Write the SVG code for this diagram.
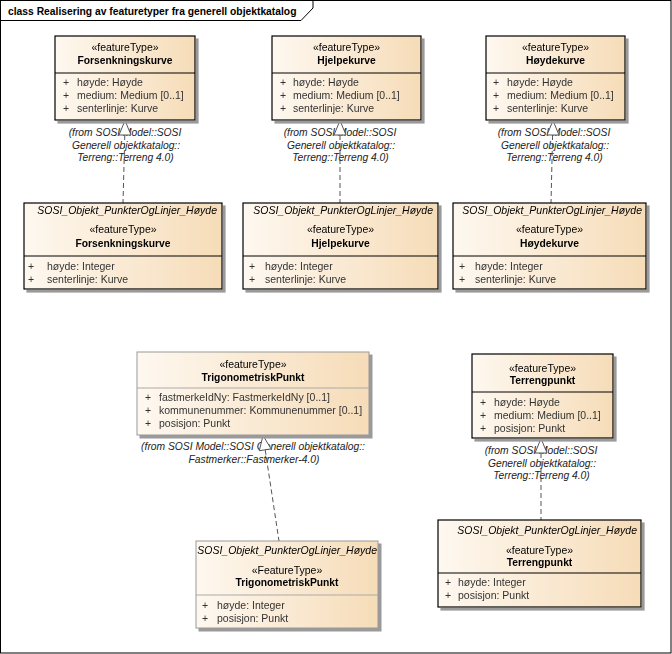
<svg xmlns="http://www.w3.org/2000/svg" width="672" height="654" viewBox="0 0 672 654">
<defs>
<linearGradient id="g" x1="0" y1="0" x2="1" y2="0">
<stop offset="0" stop-color="#FEF8F0"/>
<stop offset="1" stop-color="#F6DCB8"/>
</linearGradient>
<filter id="sh" x="-5%" y="-5%" width="115%" height="115%">
<feFlood flood-color="#9a9a9a"/>
<feComposite in2="SourceAlpha" operator="in"/>
<feOffset dx="3" dy="3" result="s"/>
<feMerge><feMergeNode in="s"/><feMergeNode in="SourceGraphic"/></feMerge>
</filter>
</defs>
<style>
text{font-family:"Liberation Sans",Arial,sans-serif;font-size:10.5px;fill:#000}
.t{font-weight:bold;font-size:10.3px}
.c{text-anchor:middle}
.e{text-anchor:end}
.i{font-style:italic}
.a{fill:#333}
.lb{font-style:italic;fill:#222;text-anchor:middle;font-size:10.3px}
.box{fill:url(#g);stroke:#000;stroke-width:1.2}
.boxg{fill:url(#g);stroke:#999;stroke-width:1}
.dv{stroke:#000;stroke-width:1}
.dvg{stroke:#aaa;stroke-width:1}
.dash{stroke:#555;stroke-width:1;stroke-dasharray:5,3;fill:none}
.tri{fill:#fff;stroke:#555;stroke-width:1}
</style>
<g id="frame">
<rect x="0.5" y="0.5" width="670.5" height="652.5" fill="#fff" stroke="#000" stroke-width="1"/>
<path d="M0.5 0.5 H313 V8 L301 20.5 H0.5" fill="none" stroke="#000" stroke-width="1"/>
<text class="t" x="8" y="14.5">class Realisering av featuretyper fra generell objektkatalog</text>
</g>

<g id="labels">
<text class="lb" x="125" y="135.5">(from SOSI Model::SOSI</text>
<text class="lb" x="126" y="148.5">Generell objektkatalog::</text>
<text class="lb" x="125.5" y="161">Terreng::Terreng 4.0)</text>
<text class="lb" x="340" y="135.5">(from SOSI Model::SOSI</text>
<text class="lb" x="341" y="148.5">Generell objektkatalog::</text>
<text class="lb" x="340.5" y="161">Terreng::Terreng 4.0)</text>
<text class="lb" x="554" y="135.5">(from SOSI Model::SOSI</text>
<text class="lb" x="555" y="148.5">Generell objektkatalog::</text>
<text class="lb" x="554.5" y="161">Terreng::Terreng 4.0)</text>
<text class="lb" x="253" y="450">(from SOSI Model::SOSI Generell objektkatalog::</text>
<text class="lb" x="254" y="462.5">Fastmerker::Fastmerker-4.0)</text>
<text class="lb" x="541" y="454">(from SOSI Model::SOSI</text>
<text class="lb" x="542" y="466.5">Generell objektkatalog::</text>
<text class="lb" x="541.5" y="479">Terreng::Terreng 4.0)</text>
</g>

<g id="connectors">
<line class="dash" x1="124.8" y1="135" x2="123" y2="203"/>
<path class="tri" d="M125 120.5 L131 135 L119 135 Z"/>
<line class="dash" x1="340" y1="135" x2="340" y2="203"/>
<path class="tri" d="M340 120.5 L346 135 L334 135 Z"/>
<line class="dash" x1="552.6" y1="135" x2="551" y2="203"/>
<path class="tri" d="M553 120.5 L559 135 L547 135 Z"/>
<line class="dash" x1="265.2" y1="449.8" x2="279" y2="541"/>
<path class="tri" d="M263 435.5 L271.1 448.9 L259.3 450.7 Z"/>
<line class="dash" x1="541" y1="453" x2="541" y2="520"/>
<path class="tri" d="M541 438.5 L547 453 L535 453 Z"/>
</g>

<g id="forsenkningskurve-top" filter="url(#sh)">
<rect class="box" x="55" y="36" width="140" height="84"/>
<line class="dv" x1="55" y1="73" x2="195" y2="73"/>
<text class="c" x="125" y="50.5">«featureType»</text>
<text class="t c" x="125" y="63.5">Forsenkningskurve</text>
<text class="a" x="63" y="86">+</text><text class="a" x="77" y="86">høyde: Høyde</text>
<text class="a" x="63" y="99">+</text><text class="a" x="77" y="99">medium: Medium [0..1]</text>
<text class="a" x="63" y="112">+</text><text class="a" x="77" y="112">senterlinje: Kurve</text>
</g>

<g id="hjelpekurve-top" filter="url(#sh)">
<rect class="box" x="272" y="36" width="149" height="84"/>
<line class="dv" x1="272" y1="73" x2="421" y2="73"/>
<text class="c" x="346.5" y="50.5">«featureType»</text>
<text class="t c" x="346.5" y="63.5">Hjelpekurve</text>
<text class="a" x="280" y="86">+</text><text class="a" x="293" y="86">høyde: Høyde</text>
<text class="a" x="280" y="99">+</text><text class="a" x="293" y="99">medium: Medium [0..1]</text>
<text class="a" x="280" y="112">+</text><text class="a" x="293" y="112">senterlinje: Kurve</text>
</g>

<g id="hoydekurve-top" filter="url(#sh)">
<rect class="box" x="486" y="36" width="139" height="84"/>
<line class="dv" x1="486" y1="73" x2="625" y2="73"/>
<text class="c" x="555.5" y="50.5">«featureType»</text>
<text class="t c" x="555.5" y="63.5">Høydekurve</text>
<text class="a" x="493" y="86">+</text><text class="a" x="507" y="86">høyde: Høyde</text>
<text class="a" x="493" y="99">+</text><text class="a" x="507" y="99">medium: Medium [0..1]</text>
<text class="a" x="493" y="112">+</text><text class="a" x="507" y="112">senterlinje: Kurve</text>
</g>

<g id="forsenkningskurve-bottom" filter="url(#sh)">
<rect class="box" x="24" y="203" width="198" height="86"/>
<line class="dv" x1="24" y1="256" x2="222" y2="256"/>
<text class="i e" x="217" y="214">SOSI_Objekt_PunkterOgLinjer_Høyde</text>
<text class="c" x="123" y="232.5">«featureType»</text>
<text class="t c" x="123" y="246.5">Forsenkningskurve</text>
<text class="a" x="28" y="270">+</text><text class="a" x="47" y="270">høyde: Integer</text>
<text class="a" x="28" y="283">+</text><text class="a" x="47" y="283">senterlinje: Kurve</text>
</g>

<g id="hjelpekurve-bottom" filter="url(#sh)">
<rect class="box" x="243" y="203" width="195" height="86"/>
<line class="dv" x1="243" y1="256" x2="438" y2="256"/>
<text class="i e" x="433" y="214">SOSI_Objekt_PunkterOgLinjer_Høyde</text>
<text class="c" x="340.5" y="232.5">«featureType»</text>
<text class="t c" x="340.5" y="246.5">Hjelpekurve</text>
<text class="a" x="249" y="270">+</text><text class="a" x="265" y="270">høyde: Integer</text>
<text class="a" x="249" y="283">+</text><text class="a" x="265" y="283">senterlinje: Kurve</text>
</g>

<g id="hoydekurve-bottom" filter="url(#sh)">
<rect class="box" x="453" y="203" width="193" height="86"/>
<line class="dv" x1="453" y1="256" x2="646" y2="256"/>
<text class="i e" x="642" y="214">SOSI_Objekt_PunkterOgLinjer_Høyde</text>
<text class="c" x="549.5" y="232.5">«featureType»</text>
<text class="t c" x="549.5" y="246.5">Høydekurve</text>
<text class="a" x="459" y="270">+</text><text class="a" x="475" y="270">høyde: Integer</text>
<text class="a" x="459" y="283">+</text><text class="a" x="475" y="283">senterlinje: Kurve</text>
</g>

<g id="trigonometriskpunkt-top" filter="url(#sh)">
<rect class="boxg" x="137" y="352" width="232" height="83"/>
<line class="dvg" x1="137" y1="388" x2="369" y2="388"/>
<text class="c" x="253" y="368">«featureType»</text>
<text class="t c" x="253" y="380.5">TrigonometriskPunkt</text>
<text class="a" x="145" y="401">+</text><text class="a" x="159" y="401">fastmerkeIdNy: FastmerkeIdNy [0..1]</text>
<text class="a" x="145" y="414">+</text><text class="a" x="159" y="414">kommunenummer: Kommunenummer [0..1]</text>
<text class="a" x="145" y="427">+</text><text class="a" x="159" y="427">posisjon: Punkt</text>
</g>

<g id="trigonometriskpunkt-bottom" filter="url(#sh)">
<rect class="boxg" x="196" y="541" width="182" height="87"/>
<line class="dvg" x1="196" y1="595" x2="378" y2="595"/>
<text class="i e" x="377" y="554">SOSI_Objekt_PunkterOgLinjer_Høyde</text>
<text class="c" x="287" y="573.5">«FeatureType»</text>
<text class="t c" x="287" y="585.5">TrigonometriskPunkt</text>
<text class="a" x="202" y="609">+</text><text class="a" x="217" y="609">høyde: Integer</text>
<text class="a" x="202" y="622">+</text><text class="a" x="217" y="622">posisjon: Punkt</text>
</g>

<g id="terrengpunkt-top" filter="url(#sh)">
<rect class="box" x="472" y="354" width="141" height="84"/>
<line class="dv" x1="472" y1="392" x2="613" y2="392"/>
<text class="c" x="542.5" y="371.5">«featureType»</text>
<text class="t c" x="542.5" y="383.5">Terrengpunkt</text>
<text class="a" x="480" y="406">+</text><text class="a" x="494" y="406">høyde: Høyde</text>
<text class="a" x="480" y="419">+</text><text class="a" x="494" y="419">medium: Medium [0..1]</text>
<text class="a" x="480" y="432">+</text><text class="a" x="494" y="432">posisjon: Punkt</text>
</g>

<g id="terrengpunkt-bottom" filter="url(#sh)">
<rect class="box" x="438" y="520" width="203" height="87"/>
<line class="dv" x1="438" y1="573" x2="641" y2="573"/>
<text class="i e" x="637" y="534">SOSI_Objekt_PunkterOgLinjer_Høyde</text>
<text class="c" x="539.5" y="553.5">«featureType»</text>
<text class="t c" x="539.5" y="565.5">Terrengpunkt</text>
<text class="a" x="445" y="586">+</text><text class="a" x="458" y="586">høyde: Integer</text>
<text class="a" x="445" y="599">+</text><text class="a" x="458" y="599">posisjon: Punkt</text>
</g>
</svg>
